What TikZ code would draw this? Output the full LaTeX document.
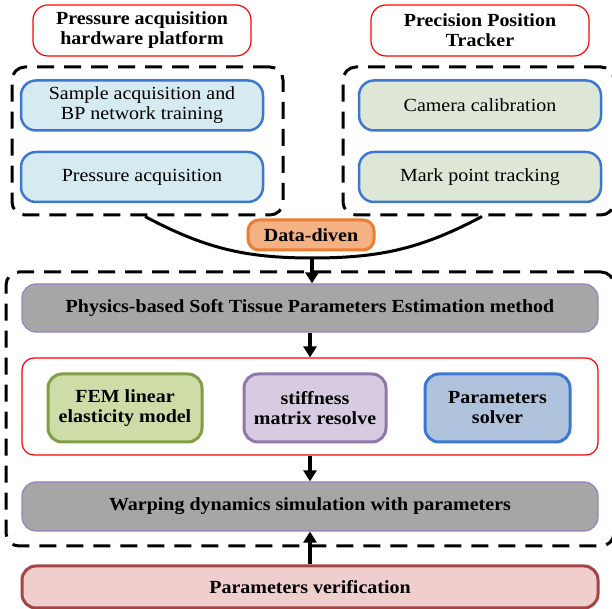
\documentclass[tikz,border=0pt]{standalone}
\usepackage{fontspec}
\setmainfont{Liberation Serif}[FakeStretch=1.08]
\usetikzlibrary{arrows.meta,positioning}

\definecolor{edgeblue}{RGB}{60,120,210}
\definecolor{fillcyan}{RGB}{214,234,241}
\definecolor{fillsage}{RGB}{222,230,214}
\definecolor{dataorange}{RGB}{237,125,49}
\definecolor{fillorange}{RGB}{244,177,131}
\definecolor{stepgray}{RGB}{166,166,166}
\definecolor{edgepurple}{RGB}{150,130,190}
\definecolor{edgegreen}{RGB}{127,158,70}
\definecolor{fillgreen}{RGB}{206,220,168}
\definecolor{edgelilac}{RGB}{143,119,168}
\definecolor{filllilac}{RGB}{214,203,224}
\definecolor{fillsteel}{RGB}{176,195,220}
\definecolor{edgebrick}{RGB}{165,68,66}
\definecolor{fillrose}{RGB}{239,206,205}

\begin{document}
\begin{tikzpicture}[x=1pt,y=1pt,
  txt/.style={font=\fontsize{18.5}{20}\selectfont},
  bld/.style={font=\fontsize{18.5}{20}\selectfont\bfseries},
  titlebox/.style={bld,draw=red,line width=1.2pt,rounded corners=15pt,align=center,
    minimum width=218pt,minimum height=51pt},
  groupbox/.style={draw=black,line width=3pt,dash pattern=on 17pt off 10pt,rounded corners=13pt},
  itembox/.style={txt,draw=edgeblue,line width=2.5pt,rounded corners=15pt,align=center,
    minimum width=242pt,minimum height=50pt},
  stagebox/.style={bld,draw=edgepurple,line width=1.2pt,fill=stepgray,rounded corners=14pt,
    minimum width=576pt},
  modelbox/.style={bld,line width=3pt,rounded corners=14pt,align=center,minimum height=68pt},
  flow/.style={line width=3.5pt,-{Triangle[width=13pt,length=11pt]}}]
  \useasboundingbox (0,0) rectangle (612,609);
  \clip (0,0) rectangle (612,609);

  % the two sources
  \node[titlebox] (hwtitle) at (142,578.5) {Pressure acquisition\\hardware platform};
  \node[titlebox] (trktitle) at (480,578.5) {Precision Position\\Tracker};
  \node[groupbox,minimum width=271pt,minimum height=148pt] (hwgroup) at (147.5,468) {};
  \node[groupbox,minimum width=271pt,minimum height=148pt] (trkgroup) at (478.5,468) {};
  \node[itembox,fill=fillcyan] (sample) at (142,503.5) {Sample acquisition and\\BP network training};
  \node[itembox,fill=fillcyan] (pressure) at (142,432) {Pressure acquisition};
  \node[itembox,fill=fillsage] (camera) at (480,503.5) {Camera calibration};
  \node[itembox,fill=fillsage] (mark) at (480,432) {Mark point tracking};

  % both sources join below
  \coordinate (join) at (312,351);
  \draw[line width=3pt] ([xshift=-2.5pt]hwgroup.south) to[out=-28,in=180] (join)
    to[out=0,in=-152] ([xshift=3.5pt]trkgroup.south);
  \node[bld,draw=dataorange,fill=fillorange,line width=3pt,rounded corners=11pt,
    minimum width=126pt,minimum height=30pt] (datadriven) at (311,374) {Data-diven};

  % estimation method
  \node[groupbox,minimum width=608pt,minimum height=274pt] (method) at (310,200) {};
  \node[stagebox,minimum height=48pt] (physics) at (310,301)
    {Physics-based Soft Tissue Parameters Estimation method};
  \node[draw=red,line width=1.2pt,rounded corners=12pt,minimum width=576pt,
    minimum height=97pt] (models) at (310,202.5) {};
  \foreach \x/\w/\name/\edge/\fillc/\label in {
      125/154/fem/edgegreen/fillgreen/{FEM linear\\elasticity model},
      315/142/stiffness/edgelilac/filllilac/{stiffness\\matrix resolve},
      497.5/145/solver/edgeblue/fillsteel/{Parameters\\solver}}
    \node[modelbox,draw=\edge,fill=\fillc,minimum width=\w pt] (\name) at (\x,201) {\label};
  \node[stagebox,minimum height=49pt] (warping) at (310,102.5)
    {Warping dynamics simulation with parameters};
  \node[bld,draw=edgebrick,fill=fillrose,line width=3pt,rounded corners=14pt,
    minimum width=576pt,minimum height=42pt] (verify) at (310,22) {Parameters verification};

  % flow between the stages
  \draw[flow] (join) -- (join |- physics.north);
  \draw[flow] (physics.south) -- (models.north);
  \draw[flow] (models.south) -- (warping.north);
  \draw[flow] (verify.north) -- (warping.south);
\end{tikzpicture}
\end{document}
